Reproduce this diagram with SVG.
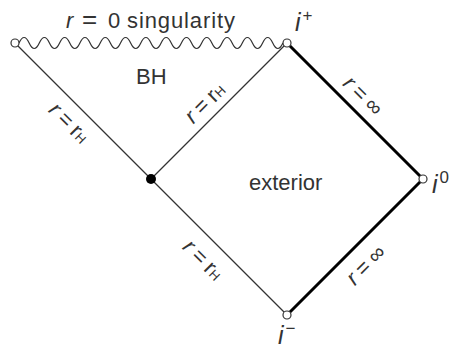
<svg xmlns="http://www.w3.org/2000/svg" width="453" height="348" viewBox="0 0 453 348">
<style>
.m{font-family:"Liberation Sans",Arial,sans-serif;fill:#333;font-size:22px}
.it{font-style:italic}
.thin{stroke:#333;stroke-width:1.2;fill:none}
.thick{stroke:#000;stroke-width:3;fill:none}
.oc{fill:#fff;stroke:#333;stroke-width:1.2}
</style>
<rect width="453" height="348" fill="#fff"/>
<g id="connectors">
<path class="thin" d="M19,43 q5.08,-11 10.15,0 t10.15,0 t10.15,0 t10.15,0 t10.15,0 t10.15,0 t10.15,0 t10.15,0 t10.15,0 t10.15,0 t10.15,0 t10.15,0 t10.15,0 t10.15,0 t10.15,0 t10.15,0 t10.15,0 t10.15,0 t10.15,0 t10.15,0 t10.15,0 t10.15,0 t10.15,0 t10.15,0 t10.15,0 t10.15,0"/>
<line class="thin" x1="15" y1="43" x2="287" y2="315"/>
<line class="thin" x1="151" y1="179" x2="287" y2="43"/>
<line class="thick" x1="287" y1="43" x2="423" y2="179"/>
<line class="thick" x1="423" y1="179" x2="287" y2="315"/>
</g>
<g id="labels">
<text class="m" y="28"><tspan class="it" x="66">r</tspan><tspan x="82" font-size="26">=</tspan><tspan x="108">0</tspan><tspan x="127" textLength="108" lengthAdjust="spacing">singularity</tspan></text>
<text class="m" x="136" y="84">BH</text>
<text class="m" x="249" y="190">exterior</text>
<g transform="translate(69,123) rotate(45)"><text class="m" x="0" y="7" text-anchor="middle"><tspan class="it">r</tspan><tspan dx="5">=</tspan><tspan dx="5">r</tspan><tspan font-size="13">H</tspan></text></g>
<g transform="translate(205,103) rotate(-45)"><text class="m" x="0" y="7" text-anchor="middle"><tspan class="it">r</tspan><tspan dx="5">=</tspan><tspan dx="5">r</tspan><tspan font-size="13">H</tspan></text></g>
<g transform="translate(203,260) rotate(45)"><text class="m" x="0" y="7" text-anchor="middle"><tspan class="it">r</tspan><tspan dx="5">=</tspan><tspan dx="5">r</tspan><tspan font-size="13">H</tspan></text></g>
<g transform="translate(363,96) rotate(45)"><text class="m" x="0" y="7" text-anchor="middle"><tspan class="it">r</tspan><tspan dx="5">=</tspan><tspan dx="5">∞</tspan></text></g>
<g transform="translate(366,265) rotate(-45)"><text class="m" x="0" y="7" text-anchor="middle"><tspan class="it">r</tspan><tspan dx="5">=</tspan><tspan dx="5">∞</tspan></text></g>
</g>
<g id="n-left"><circle class="oc" cx="15" cy="43" r="4"/></g>
<g id="n-iplus"><circle class="oc" cx="287" cy="43" r="4"/><text class="m" x="295" y="31"><tspan class="it" font-size="25">i</tspan><tspan font-size="17" dx="2" dy="-10">+</tspan></text></g>
<g id="n-bif"><circle cx="151" cy="179" r="5" fill="#000"/></g>
<g id="n-i0"><circle class="oc" cx="423" cy="179" r="4"/><text class="m" x="432" y="193"><tspan class="it" font-size="25">i</tspan><tspan font-size="17" dx="2" dy="-10">0</tspan></text></g>
<g id="n-iminus"><circle class="oc" cx="287" cy="315" r="4"/><text class="m" x="278" y="344"><tspan class="it" font-size="25">i</tspan><tspan font-size="17" dx="2" dy="-10">−</tspan></text></g>
</svg>
